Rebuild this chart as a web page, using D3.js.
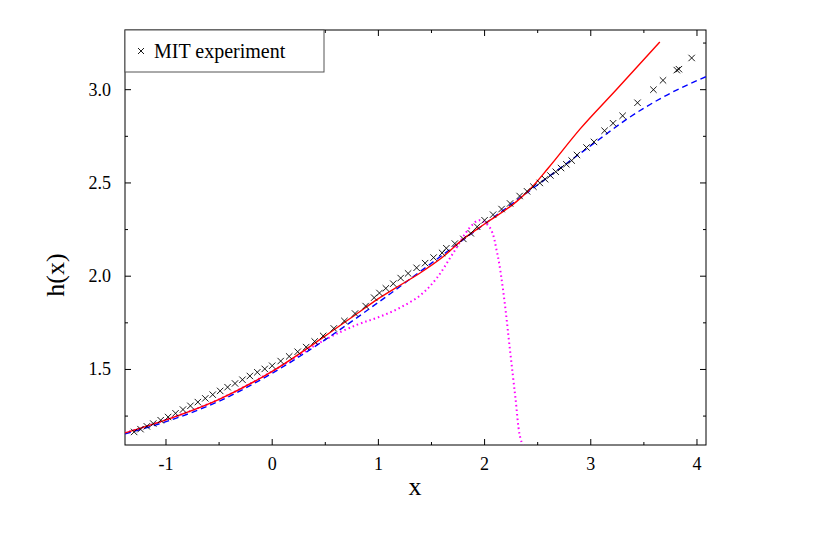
<!DOCTYPE html>
<html><head><meta charset="utf-8">
<script src="https://cdn.jsdelivr.net/npm/d3@7"></script>
<style>body{margin:0;background:#fff}text{font-family:"Liberation Serif","Times New Roman",serif}</style>
</head><body><svg id="c" width="830" height="535"></svg>
<script>
// MIT experiment crosses
const mitX = [-1.3,-1.24,-1.18,-1.12,-1.05,-0.98,-0.91,-0.84,-0.77,-0.7,-0.63,-0.56,-0.49,-0.42,-0.35,-0.28,-0.21,-0.14,-0.07,0,0.08,0.16,0.24,0.32,0.4,0.48,0.58,0.68,0.78,0.88,0.96,1.01,1.07,1.14,1.21,1.28,1.36,1.44,1.52,1.6,1.64,1.72,1.8,1.87,1.93,2.0,2.08,2.16,2.24,2.33,2.4,2.46,2.52,2.57,2.62,2.67,2.72,2.77,2.82,2.87,2.96,3.03,3.13,3.21,3.3,3.44,3.59,3.68,3.81,3.83,3.95];
const mitY = [1.165,1.18,1.195,1.21,1.228,1.245,1.265,1.285,1.305,1.325,1.345,1.365,1.385,1.405,1.425,1.445,1.465,1.485,1.503,1.52,1.545,1.57,1.595,1.62,1.65,1.68,1.72,1.76,1.8,1.84,1.885,1.91,1.935,1.96,1.99,2.015,2.045,2.07,2.1,2.125,2.15,2.175,2.2,2.23,2.265,2.3,2.33,2.36,2.39,2.43,2.455,2.48,2.5,2.52,2.54,2.56,2.58,2.6,2.62,2.65,2.69,2.72,2.78,2.82,2.86,2.93,3.0,3.05,3.105,3.11,3.17];
// blue dashed curve
const blueX = [-1.386,-1,-0.5,0,0.5,1,1.5,2,2.5,3,3.36,3.68,4.085];
const blueY = [1.155,1.22,1.33,1.48,1.66,1.86,2.07,2.28,2.49,2.7,2.85,2.96,3.07];
// red solid curve
const redX = [-1.386,-1,-0.5,0,0.5,0.8,1,1.2,1.4,1.6,1.8,2,2.3,2.45,2.6,2.9,3.24,3.65];
const redY = [1.16,1.23,1.34,1.49,1.68,1.8,1.88,1.95,2.02,2.1,2.2,2.28,2.4,2.48,2.58,2.79,3.0,3.256];
// magenta dotted curve
const magX = [-1.386,-1,-0.5,0,0.5,0.8,1,1.2,1.4,1.55,1.7,1.86,1.95,2.05,2.12,2.18,2.24,2.29,2.33,2.36];
const magY = [1.16,1.23,1.34,1.49,1.66,1.74,1.78,1.83,1.9,1.99,2.12,2.26,2.3,2.26,2.12,1.9,1.6,1.35,1.15,1.09];

const xTicks = [-1,0,1,2,3,4];
const yTicks = [1.5,2.0,2.5,3.0];

const svg = d3.select("#c");
const L = 125, R = 706, T = 30, B = 445;
const x = d3.scaleLinear().domain([-1.386, 4.085]).range([L, R]);
const y = d3.scaleLinear().domain([1.095, 3.32]).range([B, T]);

svg.append("rect").attr("x", L).attr("y", T).attr("width", R - L).attr("height", B - T)
  .attr("fill", "none").attr("stroke", "#000").attr("stroke-width", 1);

const g = svg.append("g");
const minorX = d3.range(-1, 4.1, 0.5), minorY = d3.range(1.25, 3.3, 0.25);
minorX.forEach(v => {
  const len = Number.isInteger(v) ? 6 : 3;
  g.append("line").attr("x1", x(v)).attr("x2", x(v)).attr("y1", B).attr("y2", B - len).attr("stroke", "#000");
  g.append("line").attr("x1", x(v)).attr("x2", x(v)).attr("y1", T).attr("y2", T + len).attr("stroke", "#000");
});
minorY.forEach(v => {
  const len = Math.abs(v * 2 - Math.round(v * 2)) < 1e-6 ? 6 : 3;
  g.append("line").attr("x1", L).attr("x2", L + len).attr("y1", y(v)).attr("y2", y(v)).attr("stroke", "#000");
  g.append("line").attr("x1", R).attr("x2", R - len).attr("y1", y(v)).attr("y2", y(v)).attr("stroke", "#000");
});
xTicks.forEach(v => g.append("text").attr("x", x(v)).attr("y", B + 25).attr("text-anchor", "middle")
  .attr("font-size", 18).text(v));
yTicks.forEach(v => g.append("text").attr("x", L - 14).attr("y", y(v) + 6).attr("text-anchor", "end")
  .attr("font-size", 18).text(v.toFixed(1)));

svg.append("text").attr("x", 415).attr("y", 495).attr("text-anchor", "middle").attr("font-size", 26).text("x");
svg.append("text").attr("transform", "translate(64,275) rotate(-90)").attr("text-anchor", "middle")
  .attr("font-size", 26).text("h(x)");

svg.append("clipPath").attr("id", "cp").append("rect")
  .attr("x", L).attr("y", T).attr("width", R - L).attr("height", B - T);
const plot = svg.append("g").attr("clip-path", "url(#cp)");
const line = d3.line().x(d => x(d[0])).y(d => y(d[1])).curve(d3.curveMonotoneX);

plot.append("path").datum(magX.map((v, i) => [v, magY[i]]))
  .attr("d", d3.line().x(d => x(d[0])).y(d => y(d[1])).curve(d3.curveCatmullRom))
  .attr("fill", "none").attr("stroke", "#ff00ff").attr("stroke-width", 2).attr("stroke-dasharray", "1.5,3");
plot.append("path").datum(blueX.map((v, i) => [v, blueY[i]])).attr("d", line)
  .attr("fill", "none").attr("stroke", "#0000ff").attr("stroke-width", 1.4).attr("stroke-dasharray", "6,4");
plot.append("path").datum(redX.map((v, i) => [v, redY[i]])).attr("d", line)
  .attr("fill", "none").attr("stroke", "#ff0000").attr("stroke-width", 1.4);

const cross = (sel, cx, cy, s) => sel.append("path")
  .attr("d", `M${cx - s},${cy - s}L${cx + s},${cy + s}M${cx - s},${cy + s}L${cx + s},${cy - s}`)
  .attr("stroke", "#000").attr("stroke-width", 0.9);
mitX.forEach((v, i) => cross(plot, x(v), y(mitY[i]), 3.2));

// legend
svg.append("rect").attr("x", L).attr("y", T).attr("width", 199).attr("height", 42)
  .attr("fill", "#fff").attr("stroke", "#555");
cross(svg, 141, 51, 3);
svg.append("text").attr("x", 154).attr("y", 58).attr("font-size", 20).text("MIT experiment");
</script></body></html>
